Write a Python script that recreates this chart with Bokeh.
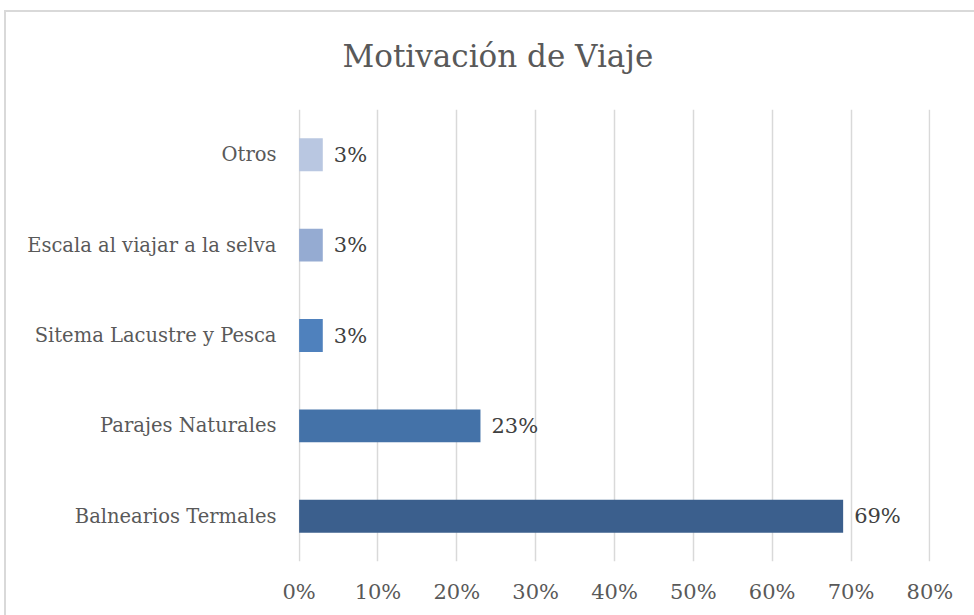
from bokeh.plotting import figure
from bokeh.models import ColumnDataSource, Title, FixedTicker, NumeralTickFormatter, Range1d
from bokeh.core.properties import value
from bokeh.embed import file_html
from bokeh.resources import INLINE

categories = ["Balnearios Termales", "Parajes Naturales", "Sitema Lacustre y Pesca",
              "Escala al viajar a la selva", "Otros"]
values = [0.69, 0.23, 0.03, 0.03, 0.03]
labels = ["69%", "23%", "3%", "3%", "3%"]
colors = ["#3b5f8d", "#4472a8", "#4f81bd", "#95abd2", "#b9c7e1"]
ticks = [0, 0.1, 0.2, 0.3, 0.4, 0.5, 0.6, 0.7, 0.8]

FONT = "DejaVu Serif"

src = ColumnDataSource(dict(cat=categories, val=values, lab=labels, col=colors))

p = figure(width=974, height=615, y_range=categories, x_range=Range1d(-0.0008, 0.8008),
           output_backend="svg", toolbar_location=None,
           min_border_left=298, min_border_right=44, min_border_top=108, min_border_bottom=54)
# chart-area border (left and top edges; the others fall outside the window)
p.styles = {
    "background-color": "white",
    "background-image": "linear-gradient(#d9d9d9, #d9d9d9), linear-gradient(#d9d9d9, #d9d9d9)",
    "background-size": "2px 700px, 1000px 2px",
    "background-position": "4px 10px, 4px 10px",
    "background-repeat": "no-repeat",
}
p.title = Title(text="Motivación de Viaje", align="left", offset=44, standoff=71,
                vertical_align="bottom",
                text_font=FONT, text_font_size="31px", text_font_style="normal",
                text_color="#595959")
p.outline_line_color = None
p.background_fill_color = "white"
p.border_fill_color = None

p.hbar(y="cat", right="val", left=0, height=0.364, fill_color="col", line_color=None, source=src)
p.text(x="val", y="cat", text="lab", source=src, x_offset=11, text_baseline="middle",
       text_align="left", text_font=value(FONT), text_font_size="21px", text_color="#404040")

p.xaxis.ticker = FixedTicker(ticks=ticks)
p.xaxis.formatter = NumeralTickFormatter(format="0%")
for ax in (p.xaxis[0], p.yaxis[0]):
    ax.axis_line_color = None
    ax.major_tick_line_color = None
    ax.minor_tick_line_color = None
    ax.major_label_text_font = FONT
    ax.major_label_text_color = "#595959"
p.xaxis.major_label_text_font_size = "21px"
p.yaxis.major_label_text_font_size = "19.5px"
p.xaxis.major_label_standoff = 12
p.yaxis.major_label_standoff = 16

p.xgrid.grid_line_color = "#d9d9d9"
p.xgrid.grid_line_width = 1.5
p.ygrid.grid_line_color = None

open("out.html", "w").write(file_html(p, INLINE))
